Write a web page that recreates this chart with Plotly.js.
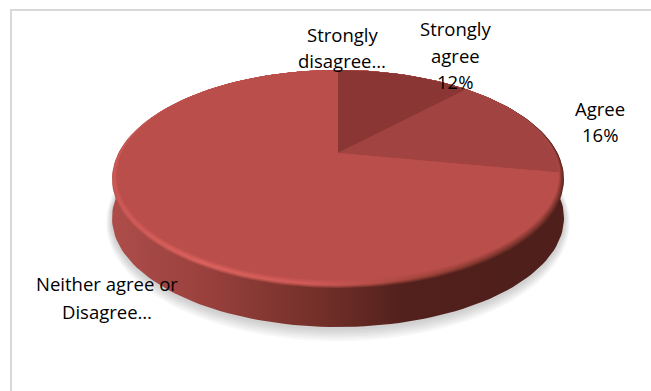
<!DOCTYPE html>
<html>
<head>
<meta charset="utf-8">
<script src="https://cdn.plot.ly/plotly-3.0.1.min.js"></script>
<style>html,body{margin:0;padding:0;background:#fff;overflow:hidden}#c{width:651px;height:391px}</style>
</head>
<body>
<div id="c"></div>
<script>
// Chart data
var categories = ['Strongly disagree', 'Strongly agree', 'Agree', 'Neither agree or Disagree'];
var values = [0, 12, 16, 72];
var sliceColors = ['#8a3634', '#8a3634', '#a14341', '#ba4e4b'];
var labelLines = [['Strongly', 'disagree…'], ['Strongly', 'agree', '12%'], ['Agree', '16%'], ['Neither agree or', 'Disagree…']];
var labelX = [342, 455, 600, 107];
var labelY = [[34, 60], [28, 55, 81], [108, 134], [283, 311]];

// Tilted-disc projection: turns a pie angle into a position on the drawing
function projector(cx, top, bottom, apex, half) {
  var C = (2 * apex - top - bottom) / (bottom - top);
  var B = bottom * (1 + C) - apex;
  var a = half * Math.sqrt(1 - C * C);
  return function (theta, dy) {
    var u = Math.sin(theta), v = -Math.cos(theta), d = 1 + C * v;
    return [cx + a * u / d, (apex + B * v) / d + (dy || 0)];
  };
}
var face = projector(338, 70, 280, 153, 221);
var outer = projector(338, 70, 288, 155, 226);

function arc(p, from, to, n, dy) {
  var pts = [];
  for (var i = 0; i <= n; i++) pts.push(p(from + (to - from) * i / n, dy));
  return pts;
}
function poly(pts, extra) {
  var t = {
    type: 'scatter', mode: 'lines', fill: 'toself', hoverinfo: 'skip',
    x: pts.map(function (q) { return q[0]; }),
    y: pts.map(function (q) { return q[1]; }),
    line: { width: 0 }
  };
  for (var k in extra) t[k] = extra[k];
  return t;
}
function hex(c) { return [1, 3, 5].map(function (i) { return parseInt(c.substr(i, 2), 16); }); }
function mix(a, b, t) {
  var A = hex(a), B = hex(b);
  return 'rgb(' + A.map(function (v, i) { return Math.round(v + (B[i] - v) * t); }).join(',') + ')';
}
function hgrad(pos, cols) {
  return { type: 'horizontal', colorscale: pos.map(function (p, i) { return [p, cols[i]]; }) };
}

var traces = [];
var TAU = 2 * Math.PI;

// soft ground shadow
[[6, 0.03], [5, 0.03], [4, 0.03], [3, 0.03], [2, 0.03], [1, 0.03]].forEach(function (s) {
  var d = 40;
  var sp = projector(338, 70 + d - s[0], 288 + d + s[0] * 2.2, 155 + d, 226 + s[0]);
  traces.push(poly(arc(sp, 0, TAU, 120), { fillcolor: 'rgba(0,0,0,' + s[1] + ')' }));
});

// outer side wall
var wallDepth = 39;
var stopPos = [0, 0.2, 0.45, 0.64, 0.85, 1];
var wallCols = ['#ad4d4a', '#9a413e', '#743029', '#53211d', '#4f1f1b', '#4f1f1b'];
var glowCols = ['#d05a57', '#e0645f', '#d25b58', '#a8473f', '#84382f', '#7a332c'];
var faceCols = ['#ba4e4b', '#ba4e4b', '#ba4e4b', '#ba4e4b', '#ba4e4b', '#ba4e4b'];
var wall = arc(outer, Math.PI * 0.5, Math.PI * 1.5, 100, wallDepth)
  .concat(arc(outer, Math.PI * 1.5, Math.PI * 2.5, 100));
traces.push(poly(wall, { fillcolor: '#7a3230', fillgradient: hgrad(stopPos, wallCols) }));

// blurred bevel: stacked rims going from the wall colour through the glow to the face colour
var rimSteps = 10;
for (var r = 0; r <= rimSteps; r++) {
  var t = r / rimSteps;
  var rp = projector(338, 70, 288 - 8 * t, 155 - 2 * t, 226 - 5 * t);
  var cols = stopPos.map(function (_, i) {
    return t < 0.35 ? mix(wallCols[i], glowCols[i], 0.3 + 0.7 * t / 0.35)
      : mix(glowCols[i], faceCols[i], (t - 0.35) / 0.65);
  });
  traces.push(poly(arc(rp, 0, TAU, 160), { fillcolor: '#c95654', fillgradient: hgrad(stopPos, cols) }));
}

// top face slices, sized by the values
var total = values.reduce(function (a, b) { return a + b; }, 0);
var start = 0;
values.forEach(function (val, i) {
  var sweep = val / total * TAU;
  if (val > 0) {
    var pts = [[338, 153]].concat(arc(face, start, start + sweep, 80));
    pts.push([338, 153]);
    traces.push(poly(pts, { name: categories[i], fillcolor: sliceColors[i] }));
  }
  start += sweep;
});

var annotations = [];
labelLines.forEach(function (lines, i) {
  lines.forEach(function (txt, j) {
    annotations.push({
      x: labelX[i], y: labelY[i][j], xref: 'x', yref: 'y', text: txt, showarrow: false,
      xanchor: 'center', yanchor: 'middle',
      font: { family: 'Open Sans, sans-serif', size: 18.5, color: '#000000' }
    });
  });
});

var axis = { visible: false, fixedrange: true };
var layout = {
  width: 651, height: 391,
  margin: { l: 0, r: 0, t: 0, b: 0 },
  paper_bgcolor: '#ffffff', plot_bgcolor: '#ffffff',
  showlegend: false, hovermode: false,
  xaxis: Object.assign({ range: [0, 651] }, axis),
  yaxis: Object.assign({ range: [391, 0] }, axis),
  annotations: annotations,
  shapes: [
    { type: 'line', x0: 11, x1: 651, y0: 10, y1: 10, line: { color: '#d9d9d9', width: 2 }, layer: 'below' },
    { type: 'line', x0: 11, x1: 11, y0: 9, y1: 391, line: { color: '#d9d9d9', width: 2 }, layer: 'below' }
  ]
};
Plotly.newPlot('c', traces, layout, { displayModeBar: false, staticPlot: true });
</script>
</body>
</html>
